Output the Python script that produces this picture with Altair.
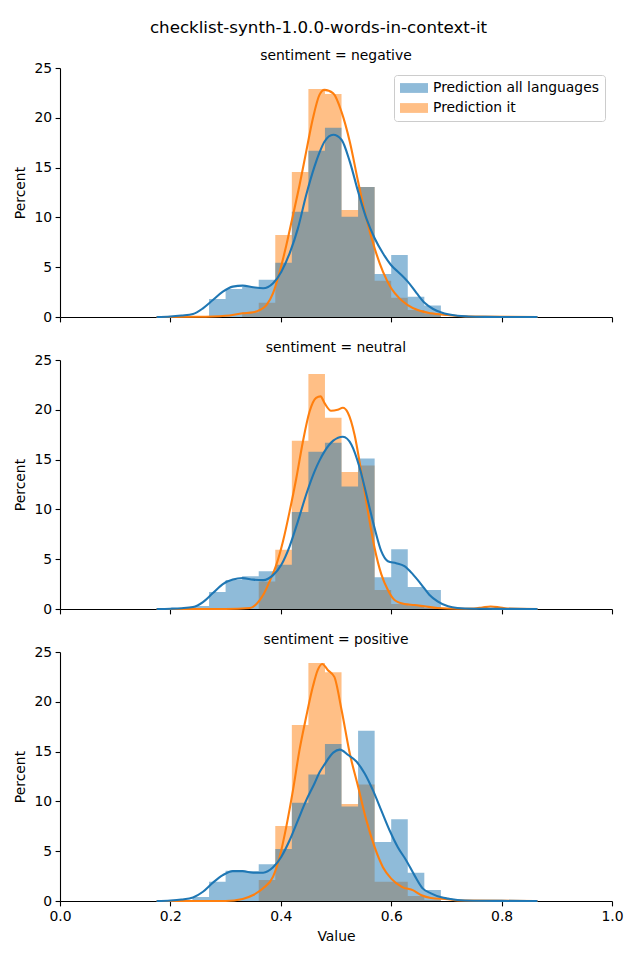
import altair as alt
import pandas as pd

FONT = "DejaVu Sans"
BLUE = "#1f77b4"
ORANGE = "#ff7f0e"

panels = ["negative", "neutral", "positive"]
series_names = ["Prediction all languages", "Prediction it"]

bin_starts = [0.24, 0.27, 0.30, 0.33, 0.36, 0.39, 0.42, 0.45, 0.48, 0.51, 0.54, 0.57, 0.60, 0.63, 0.66]
bin_ends = [0.27, 0.30, 0.33, 0.36, 0.39, 0.42, 0.45, 0.48, 0.51, 0.54, 0.57, 0.60, 0.63, 0.66, 0.69]

# histogram percentages (per panel, per series)
neg_all = [0, 1.8, 2.8, 3.0, 3.75, 5.45, 10.57, 16.7, 19.0, 10.07, 13.05, 4.32, 6.22, 2.04, 1.15]
neg_it = [0, 0, 0, 0.47, 1.44, 8.23, 14.56, 22.9, 22.4, 10.74, 13.05, 3.65, 1.94, 0.7, 0.35]
neu_all = [0.3, 1.7, 2.9, 3.28, 3.8, 4.45, 9.74, 15.8, 16.7, 12.3, 15.1, 3.2, 6.0, 2.2, 1.9]
neu_it = [0, 0, 0, 0, 2.75, 5.96, 16.9, 23.6, 19.2, 13.75, 14.4, 1.9, 0.5, 0.35, 0.1]
pos_all = [0.4, 1.94, 3.04, 3.0, 3.7, 5.22, 9.87, 12.7, 15.76, 9.5, 17.1, 5.92, 8.2, 2.84, 1.1]
pos_it = [0, 0, 0, 0, 2.1, 7.53, 17.67, 23.9, 22.96, 9.75, 11.7, 1.94, 1.94, 0.5, 0.1]

# KDE curves
neg_all_kx = [0.175, 0.20, 0.22, 0.241, 0.259, 0.277, 0.295, 0.313, 0.331, 0.350, 0.368, 0.386, 0.401, 0.416,
              0.431, 0.446, 0.461, 0.470, 0.479, 0.495, 0.510, 0.525, 0.540, 0.555, 0.570, 0.585, 0.600, 0.615,
              0.630, 0.646, 0.661, 0.676, 0.691, 0.703, 0.72, 0.74, 0.77, 0.80, 0.865]
neg_all_ky = [0, 0.05, 0.15, 0.3, 0.87, 1.7, 2.54, 3.05, 3.15, 2.98, 2.88, 3.38, 4.55, 6.4,
              8.9, 12.25, 15.1, 16.5, 17.6, 18.3, 17.8, 15.6, 12.6, 9.9, 7.9, 6.4, 5.2, 4.4,
              3.55, 2.4, 1.4, 0.8, 0.45, 0.27, 0.12, 0.05, 0.01, 0, 0]
neg_it_kx = [0.175, 0.25, 0.30, 0.331, 0.350, 0.362, 0.374, 0.386, 0.398, 0.410, 0.422, 0.434, 0.446, 0.458,
             0.470, 0.479, 0.495, 0.510, 0.525, 0.540, 0.555, 0.570, 0.585, 0.600, 0.615, 0.630, 0.648,
             0.672, 0.703, 0.74, 0.865]
neg_it_ky = [0, 0.02, 0.12, 0.37, 0.47, 0.7, 1.2, 2.4, 4.55, 7.2, 10.2, 13.25, 16.6, 19.9,
             22.3, 22.8, 22.45, 20.6, 17.6, 13.6, 9.9, 6.9, 4.55, 2.88, 1.87, 1.2, 0.7,
             0.37, 0.2, 0.05, 0]

neu_all_kx = [0.175, 0.20, 0.22, 0.241, 0.259, 0.277, 0.295, 0.313, 0.331, 0.350, 0.368, 0.386, 0.401, 0.416,
              0.431, 0.446, 0.461, 0.470, 0.479, 0.495, 0.5125, 0.528, 0.543, 0.558, 0.570, 0.582, 0.594,
              0.609, 0.624, 0.639, 0.654, 0.669, 0.684, 0.703, 0.72, 0.75, 0.80, 0.865]
neu_all_ky = [0, 0.03, 0.08, 0.2, 0.7, 1.6, 2.5, 2.95, 3.1, 2.95, 2.9, 3.4, 4.45, 6.3,
              8.8, 11.5, 13.8, 14.9, 15.8, 16.9, 17.3, 16.5, 14.16, 10.8, 8.1, 5.8, 4.8,
              4.6, 4.3, 3.5, 2.5, 1.44, 0.77, 0.27, 0.1, 0.03, 0.01, 0]
neu_it_kx = [0.175, 0.30, 0.344, 0.356, 0.368, 0.380, 0.392, 0.404, 0.416, 0.428, 0.440, 0.452, 0.464, 0.472,
             0.479, 0.491, 0.503, 0.5125, 0.5215, 0.5336, 0.5457, 0.5578, 0.570, 0.582, 0.594, 0.606, 0.624,
             0.642, 0.66, 0.684, 0.72, 0.75, 0.765, 0.78, 0.795, 0.81, 0.865]
neu_it_ky = [0, 0, 0.1, 0.5, 1.4, 2.8, 4.45, 6.8, 9.8, 13.1, 16.8, 19.8, 21.2, 21.35,
             20.7, 19.9, 20.0, 20.2, 19.7, 17.5, 13.8, 9.8, 6.1, 3.5, 1.9, 0.9, 0.5,
             0.4, 0.27, 0.1, 0.02, 0.05, 0.15, 0.25, 0.17, 0.04, 0]

pos_all_kx = [0.175, 0.20, 0.22, 0.241, 0.259, 0.277, 0.295, 0.313, 0.331, 0.350, 0.368, 0.386, 0.401, 0.416,
              0.431, 0.446, 0.461, 0.470, 0.479, 0.495, 0.507, 0.522, 0.537, 0.552, 0.567, 0.582, 0.597,
              0.612, 0.627, 0.642, 0.657, 0.672, 0.691, 0.703, 0.72, 0.75, 0.80, 0.865]
pos_all_ky = [0, 0.05, 0.15, 0.36, 0.93, 1.84, 2.6, 3.0, 3.0, 2.84, 2.84, 3.38, 4.45, 6.1,
              8.1, 10.1, 11.8, 12.9, 13.7, 14.9, 15.2, 14.66, 14.0, 12.8, 11.1, 9.1, 7.1,
              5.4, 4.1, 2.6, 1.27, 0.77, 0.37, 0.24, 0.1, 0.03, 0.01, 0]
pos_it_kx = [0.175, 0.30, 0.331, 0.350, 0.368, 0.386, 0.398, 0.410, 0.422, 0.434, 0.446, 0.458, 0.467, 0.475,
             0.485, 0.497, 0.510, 0.525, 0.540, 0.555, 0.570, 0.585, 0.600, 0.620, 0.640, 0.655, 0.672,
             0.703, 0.72, 0.865]
pos_it_ky = [0, 0, 0.2, 0.6, 1.27, 2.45, 4.45, 7.47, 11.1, 15.2, 18.5, 21.5, 23.2, 23.8,
             23.2, 22.5, 19.2, 14.8, 11.5, 8.1, 5.4, 3.4, 2.25, 1.4, 1.07, 0.57, 0.3,
             0.17, 0.05, 0]

hist = {
    "negative": (neg_all, neg_it),
    "neutral": (neu_all, neu_it),
    "positive": (pos_all, pos_it),
}
kde = {
    "negative": ((neg_all_kx, neg_all_ky), (neg_it_kx, neg_it_ky)),
    "neutral": ((neu_all_kx, neu_all_ky), (neu_it_kx, neu_it_ky)),
    "positive": ((pos_all_kx, pos_all_ky), (pos_it_kx, pos_it_ky)),
}

x_ticks = [0.0, 0.2, 0.4, 0.6, 0.8, 1.0]
y_ticks = [0, 5, 10, 15, 20, 25]

color_scale = alt.Scale(domain=series_names, range=[BLUE, ORANGE])


def bars_df(name, idx):
    # histogram as a step outline: each bin's left edge with its height, closed at the last right edge
    vals = list(hist[name][idx])
    edges = bin_starts + [bin_ends[-1]]
    heights = vals + [0]
    return pd.DataFrame({"edge": edges, "pct": heights,
                         "series": [series_names[idx]] * len(edges)})


def kde_df(name, idx):
    kx, ky = kde[name][idx]
    return pd.DataFrame({"x": kx, "y": ky})


def panel(name, is_top, is_bottom):
    if is_bottom:
        xaxis = alt.Axis(values=x_ticks, format=".1f", title="Value", labelFlush=False,
                         titlePadding=6)
    else:
        xaxis = alt.Axis(values=x_ticks, labels=False, title=None)
    xs = alt.Scale(domain=[0, 1], nice=False, zero=False)
    ys = alt.Scale(domain=[0, 25], nice=False)
    yaxis = alt.Axis(values=y_ticks, title="Percent", titlePadding=6)

    if is_top:
        legend = alt.Legend(
            orient="top-right", title=None, offset=7,
            symbolType="M-2,-0.7H2V0.7H-2Z", symbolSize=196, symbolOpacity=0.5,
            symbolStrokeWidth=0, symbolOffset=7,
            labelFont=FONT, labelFontSize=13.9, labelColor="black", labelOffset=12,
            labelLimit=0,
            strokeColor="#cccccc", fillColor="white", padding=6, cornerRadius=3,
            rowPadding=6,
        )
    else:
        legend = None

    def hist_area(idx):
        return alt.Chart(bars_df(name, idx)).mark_area(opacity=0.5, interpolate="step-after",
                                                       strokeWidth=0).encode(
            x=alt.X("edge:Q", scale=xs, axis=xaxis),
            y=alt.Y("pct:Q", scale=ys, axis=yaxis),
            y2=alt.datum(0),
            color=alt.Color("series:N", scale=color_scale, legend=legend),
        )

    def line(idx, col):
        return alt.Chart(kde_df(name, idx)).mark_line(color=col, strokeWidth=2.1,
                                                      interpolate="monotone").encode(
            x=alt.X("x:Q", scale=xs, axis=xaxis),
            y=alt.Y("y:Q", scale=ys, axis=yaxis),
        )

    return alt.layer(hist_area(1), hist_area(0), line(1, ORANGE), line(0, BLUE)).properties(
        width=552, height=249,
        title=alt.TitleParams(f"sentiment = {name}", fontSize=13.9, font=FONT,
                              fontWeight="normal", color="black", offset=-2),
    )


chart = alt.vconcat(
    panel("negative", True, False),
    panel("neutral", False, False),
    panel("positive", False, True),
    spacing=17,
).resolve_scale(color="independent").properties(
    title=alt.TitleParams("checklist-synth-1.0.0-words-in-context-it", fontSize=16.7, font=FONT,
                          fontWeight="normal", color="black", anchor="middle", offset=12),
    padding={"left": 5, "top": 12, "right": 0, "bottom": 0},
).configure_view(stroke=None).configure_axis(
    grid=False, domainColor="black", tickColor="black", labelColor="black", titleColor="black",
    labelFont=FONT, titleFont=FONT, labelFontSize=13.9, titleFontSize=13.9, titleFontWeight="normal",
    tickSize=4.9, domainWidth=1.1, tickWidth=1.1, labelPadding=3.5,
)

chart.save("out.html", embed_options={"renderer": "svg", "actions": False})
